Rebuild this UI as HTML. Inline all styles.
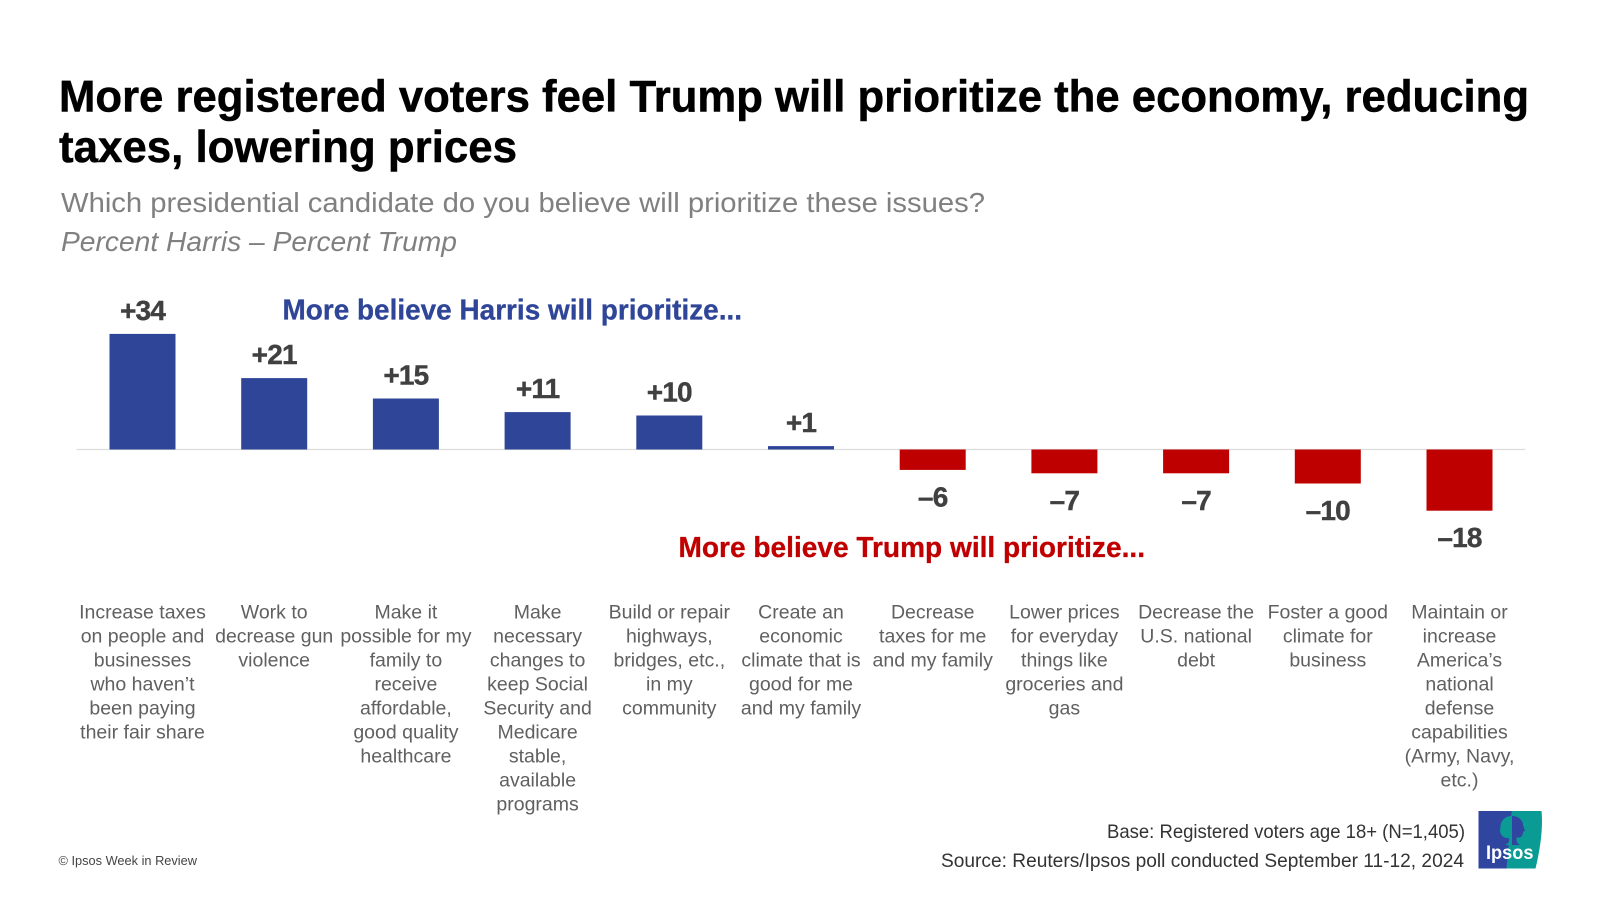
<!DOCTYPE html>
<html lang="en">
<head>
<meta charset="utf-8">
<title>More registered voters feel Trump will prioritize the economy</title>
<style>
html,body{margin:0;padding:0;background:#fff;}
svg{display:block;font-family:"Liberation Sans",sans-serif;}
</style>
</head>
<body>
<svg id="chart" xmlns="http://www.w3.org/2000/svg" width="1600" height="900" viewBox="0 0 1600 900">
  <rect width="1600" height="900" fill="#ffffff"/>
  <text x="59" y="111.5" font-size="44.500" font-weight="700" fill="#000000" stroke="#000000" stroke-width="0.5" textLength="1470" lengthAdjust="spacingAndGlyphs">More registered voters feel Trump will prioritize the economy, reducing</text>
  <text x="59" y="162" font-size="44.500" font-weight="700" fill="#000000" stroke="#000000" stroke-width="0.5" textLength="458" lengthAdjust="spacingAndGlyphs">taxes, lowering prices</text>
  <text x="61" y="212" font-size="27.500" fill="#808080" textLength="924" lengthAdjust="spacingAndGlyphs">Which presidential candidate do you believe will prioritize these issues?</text>
  <text x="61" y="251" font-size="27.500" font-style="italic" fill="#808080" textLength="396" lengthAdjust="spacingAndGlyphs">Percent Harris – Percent Trump</text>
  <text x="282.5" y="319.5" font-size="28.500" font-weight="700" fill="#2f4598" stroke="#2f4598" stroke-width="0.3" textLength="459.5" lengthAdjust="spacingAndGlyphs">More believe Harris will prioritize...</text>
  <text x="678.5" y="557" font-size="28.500" font-weight="700" fill="#c00000" stroke="#c00000" stroke-width="0.3" textLength="466.5" lengthAdjust="spacingAndGlyphs">More believe Trump will prioritize...</text>
  <line x1="76.5" x2="1525.5" y1="449.5" y2="449.5" stroke="#dddddd" stroke-width="1.2"/>
  <g id="bars"></g>
  <g id="value-labels"></g>
  <g id="category-labels"></g>
  <text x="1107" y="838" font-size="19.5" fill="#333333" textLength="358" lengthAdjust="spacingAndGlyphs">Base: Registered voters age 18+ (N=1,405)</text>
  <text x="941" y="867" font-size="19.5" fill="#333333" textLength="523" lengthAdjust="spacingAndGlyphs">Source: Reuters/Ipsos poll conducted September 11-12, 2024</text>
  <text x="58.500" y="865" font-size="13" fill="#444444" textLength="138.500" lengthAdjust="spacingAndGlyphs">© Ipsos Week in Review</text>
  <g>
    <path d="M1511 811H1541.5C1543 826 1541 846 1535.5 868.5H1506Z" fill="#0b9b95"/>
    <path d="M1478.5 811H1511.7L1506.5 868.5H1478.5Z" fill="#2f45a0"/>
    <path d="M1512 816C1505 816 1500 821 1500.500 828C1498.500 833 1503 839 1509 838C1510 841 1509 843 1505 845H1512Z" fill="#0b9b95"/>
    <path d="M1512 816C1518 816 1523 820 1523 825L1525 830.500L1523 832C1523 836 1521 838 1516.500 837.500C1516 841 1517 843 1520 845H1512Z" fill="#2f45a0"/>
    <text x="1486" y="859" font-size="19" font-weight="700" fill="#ffffff" textLength="47.500" lengthAdjust="spacingAndGlyphs">Ipsos</text>
  </g>
</svg>
<script>
const values = [34, 21, 15, 11, 10, 1, -6, -7, -7, -10, -18];
const categories = [
  ["Increase taxes", "on people and", "businesses", "who haven’t", "been paying", "their fair share"],
  ["Work to", "decrease gun", "violence"],
  ["Make it", "possible for my", "family to", "receive", "affordable,", "good quality", "healthcare"],
  ["Make", "necessary", "changes to", "keep Social", "Security and", "Medicare", "stable,", "available", "programs"],
  ["Build or repair", "highways,", "bridges, etc.,", "in my", "community"],
  ["Create an", "economic", "climate that is", "good for me", "and my family"],
  ["Decrease", "taxes for me", "and my family"],
  ["Lower prices", "for everyday", "things like", "groceries and", "gas"],
  ["Decrease the", "U.S. national", "debt"],
  ["Foster a good", "climate for", "business"],
  ["Maintain or", "increase", "America’s", "national", "defense", "capabilities", "(Army, Navy,", "etc.)"]
];

const SVG_NS = "http://www.w3.org/2000/svg";
const zeroY = 449.5;
const unitHeight = 3.4;
const firstCenter = 142.5;
const step = 131.7;
const barWidth = 66;
const xCenter = (i) => firstCenter + i * step;
const yScale = (v) => zeroY - v * unitHeight;
const barsGroup = document.getElementById("bars");
const valuesGroup = document.getElementById("value-labels");
const categoriesGroup = document.getElementById("category-labels");

values.forEach((v, i) => {
  const top = Math.min(yScale(v), zeroY);
  const bottom = Math.max(yScale(v), zeroY);

  const bar = document.createElementNS(SVG_NS, "rect");
  
  
  bar.setAttribute("x", xCenter(i) - barWidth / 2);
  bar.setAttribute("y", top);
  bar.setAttribute("width", barWidth);
  bar.setAttribute("height", bottom - top);
  bar.setAttribute("fill", v >= 0 ? "#2f4598" : "#bf0000");
  barsGroup.appendChild(bar);

  const label = document.createElementNS(SVG_NS, "text");
  
  
  label.setAttribute("x", xCenter(i));
  label.setAttribute("y", v >= 0 ? top - 14 : bottom + 36.5);
  label.setAttribute("text-anchor", "middle");
  label.setAttribute("font-size", "28");
  label.setAttribute("font-weight", "700");
  label.setAttribute("fill", "#404040");
  label.setAttribute("stroke", "#404040");
  label.setAttribute("stroke-width", "0.4");
  label.setAttribute("letter-spacing", "-0.8");
  label.textContent = (v > 0 ? "+" : v < 0 ? "–" : "") + Math.abs(v);
  valuesGroup.appendChild(label);

  categories[i].forEach((line, j) => {
    const text = document.createElementNS(SVG_NS, "text");
    
    
    text.setAttribute("x", xCenter(i));
    text.setAttribute("y", 618.5 + j * 24);
    text.setAttribute("text-anchor", "middle");
    text.setAttribute("font-size", "19.5");
    text.setAttribute("fill", "#606060");
    text.textContent = line;
    categoriesGroup.appendChild(text);
  });
});
</script>
</body>
</html>
